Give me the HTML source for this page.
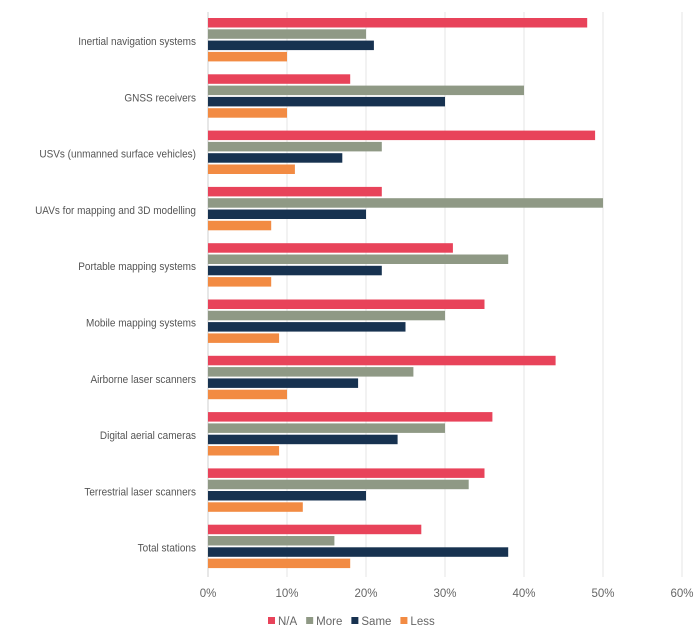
<!DOCTYPE html>
<html><head><meta charset="utf-8"><style>
html,body{margin:0;padding:0;background:#fff;}
svg{display:block;font-family:"Liberation Sans",sans-serif;}
</style></head><body>
<svg id="chart" width="699" height="643" viewBox="0 0 699 643"></svg>
<script>
const categories=["Inertial navigation systems","GNSS receivers","USVs (unmanned surface vehicles)","UAVs for mapping and 3D modelling","Portable mapping systems","Mobile mapping systems","Airborne laser scanners","Digital aerial cameras","Terrestrial laser scanners","Total stations"];
const seriesNames=["N/A","More","Same","Less"];
const naValues=[48,18,49,22,31,35,44,36,35,27];
const moreValues=[20,40,22,50,38,30,26,30,33,16];
const sameValues=[21,30,17,20,22,25,19,24,20,38];
const lessValues=[10,10,11,8,8,9,10,9,12,18];
const tickValues=[0,10,20,30,40,50,60];
const tickLabels=["0%","10%","20%","30%","40%","50%","60%"];
const colors=["#e8435a","#8f9985","#173250","#f28b43"];
const svgEl=document.getElementById('chart');
const NS="http://www.w3.org/2000/svg";
const x0=208,pxPer=7.9,plotTop=12,groupH=56.3,barH=9.5,barStep=11.3;
const xs=v=>x0+v*pxPer;
const yg=i=>plotTop+i*groupH;
function mk(t,a){const e=document.createElementNS(NS,t);for(const k in a)e.setAttribute(k,a[k]);svgEl.appendChild(e);return e;}
tickValues.forEach((v,i)=>{
  const g=mk('line',{x1:xs(v),x2:xs(v),y1:plotTop,y2:577,stroke:i===0?'#cfcfcf':'#e4e4e4','stroke-width':1});
  
  
  const t=mk('text',{x:xs(v),y:597,'text-anchor':'middle','font-size':11.5,fill:'#666'});
  t.textContent=tickLabels[i];
  
  
});
const all=[naValues,moreValues,sameValues,lessValues];
categories.forEach((c,i)=>{
  const t=mk('text',{x:0,y:0,'text-anchor':'end','font-size':11.5,fill:'#555',transform:'translate(196,'+(yg(i)+33)+') scale(0.87,1)'});
  t.textContent=c;
  
  
  all.forEach((arr,s)=>{
    const r=mk('rect',{x:x0,y:yg(i)+6+s*barStep,width:xs(arr[i])-x0,height:barH,fill:colors[s]});
    
    
  });
});
let lx=268;
seriesNames.forEach((n,s)=>{
  const r=mk('rect',{x:lx,y:617,width:7,height:7,fill:colors[s]});
  
  
  const t=mk('text',{x:lx+10,y:625,'font-size':11.5,fill:'#666'});
  t.textContent=n;
  
  
  lx+=10+t.getComputedTextLength()+9;
});
</script>
</body></html>
